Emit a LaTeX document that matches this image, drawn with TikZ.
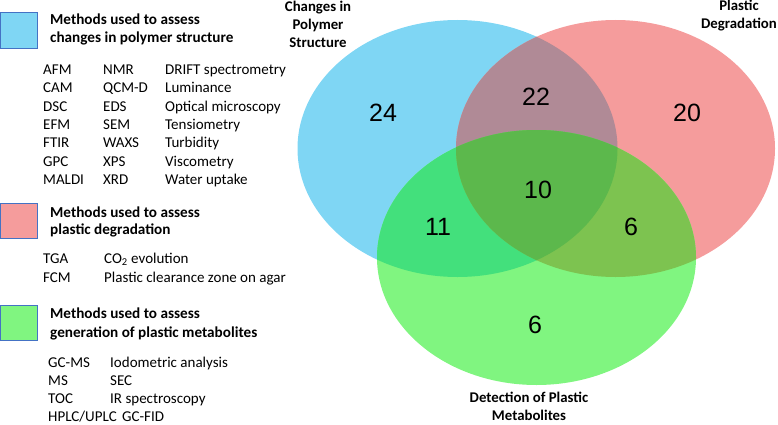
\documentclass[tikz,border=0pt]{standalone}
\usepackage{fontspec}
\setmainfont{Carlito}
\newfontfamily\numfont{Liberation Sans}
\usetikzlibrary{positioning}

\definecolor{polyblue}{RGB}{127,214,244}
\definecolor{degred}{RGB}{245,156,156}
\definecolor{metgreen}{RGB}{128,245,128}
\definecolor{polydeg}{RGB}{176,138,150}
\definecolor{polymet}{RGB}{67,224,124}
\definecolor{degmet}{RGB}{125,195,80}
\definecolor{allthree}{RGB}{92,184,76}
\definecolor{keyedge}{RGB}{68,114,196}

\begin{document}
\begin{tikzpicture}[x=1pt,y=-1pt,
  polyell/.style={insert path={(457.5,148.5) ellipse [x radius=160, y radius=128.5]}},
  degell/.style={insert path={(615.5,148.5) ellipse [x radius=159.5, y radius=128.5]}},
  metell/.style={insert path={(536.5,257.5) ellipse [x radius=159.5, y radius=127.5]}},
  keybox/.style={draw=keyedge,line width=0.9pt},
  head/.style={anchor=base west,inner sep=0pt,font=\fontsize{15.2}{18}\selectfont\bfseries},
  item/.style={anchor=base west,inner sep=0pt,font=\fontsize{15}{18}\selectfont},
  setlab/.style={align=center,inner sep=0pt,font=\fontsize{14.8}{18}\selectfont\bfseries},
  count/.style={inner sep=0pt,font=\fontsize{25}{30}\selectfont\numfont}
]
  \useasboundingbox (0,0) rectangle (778,425);
  % Venn areas
  \fill[polyblue,polyell];
  \fill[degred,degell];
  \fill[metgreen,metell];
  \begin{scope} \clip[polyell]; \fill[polydeg,degell]; \end{scope}
  \begin{scope} \clip[polyell]; \fill[polymet,metell]; \end{scope}
  \begin{scope} \clip[degell]; \fill[degmet,metell]; \end{scope}
  \begin{scope} \clip[polyell]; \clip[degell]; \fill[allthree,metell]; \end{scope}
  % counts
  \node[count](n24) at (383,113) {24};
  \node[count](n22) at (536,97)  {22};
  \node[count](n20) at (687,113) {20};
  \node[count](n10) at (538,190) {10};
  \node[count](n11) at (438,227) {11};
  \node[count](n6a) at (631,227) {6};
  \node[count](n6b) at (535,325) {6};
  % set labels
  \node[setlab](lpoly) at (318,24)  {Changes in\\Polymer\\Structure};
  \node[setlab](ldeg)  at (739,16)  {Plastic\\Degradation};
  \node[setlab](lmet)  at (529,406) {Detection of Plastic\\Metabolites};
  % key: polymer structure
  \filldraw[keybox,fill=polyblue] (0.5,12) rectangle (37,48);
  \node[head](hpoly1) at (50,25) {Methods used to assess};
  \node[head](hpoly2) at (50,43) {changes in polymer structure};
  \foreach \a/\b/\c [count=\i] in {AFM/NMR/DRIFT spectrometry, CAM/QCM-D/Luminance,
      DSC/EDS/Optical microscopy, EFM/SEM/Tensiometry, FTIR/WAXS/Turbidity,
      GPC/XPS/Viscometry, MALDI/XRD/Water uptake} {
    \node[item](pa\i) at (43,{74.6+18.3*(\i-1)})  {\a};
    \node[item](pb\i) at (103,{74.6+18.3*(\i-1)}) {\b};
    \node[item](pc\i) at (165,{74.6+18.3*(\i-1)}) {\c};
  }
  % key: plastic degradation
  \filldraw[keybox,fill=degred] (0.5,203) rectangle (37,238);
  \node[head](hdeg1) at (50,217) {Methods used to assess};
  \node[head](hdeg2) at (50,234) {plastic degradation};
  \node[item](da1) at (43,263)  {TGA};
  \node[item](db1) at (104,263) {CO\textsubscript{2} evolution};
  \node[item](da2) at (43,282)  {FCM};
  \node[item](db2) at (104,282) {Plastic clearance zone on agar};
  % key: plastic metabolites
  \filldraw[keybox,fill=metgreen] (0.5,305) rectangle (37,340);
  \node[head](hmet1) at (50,318) {Methods used to assess};
  \node[head](hmet2) at (50,337) {generation of plastic metabolites};
  \foreach \a/\b [count=\i] in {GC-MS/Iodometric analysis, MS/SEC,
      TOC/IR spectroscopy} {
    \node[item](ma\i) at (48,{367+18*(\i-1)})  {\a};
    \node[item](mb\i) at (110,{367+18*(\i-1)}) {\b};
  }
  \node[item](ma4) at (48,421) {HPLC/UPLC};
  \node[item](mb4) at ([xshift=5pt]ma4.base east) {GC-FID};
\end{tikzpicture}
\end{document}
